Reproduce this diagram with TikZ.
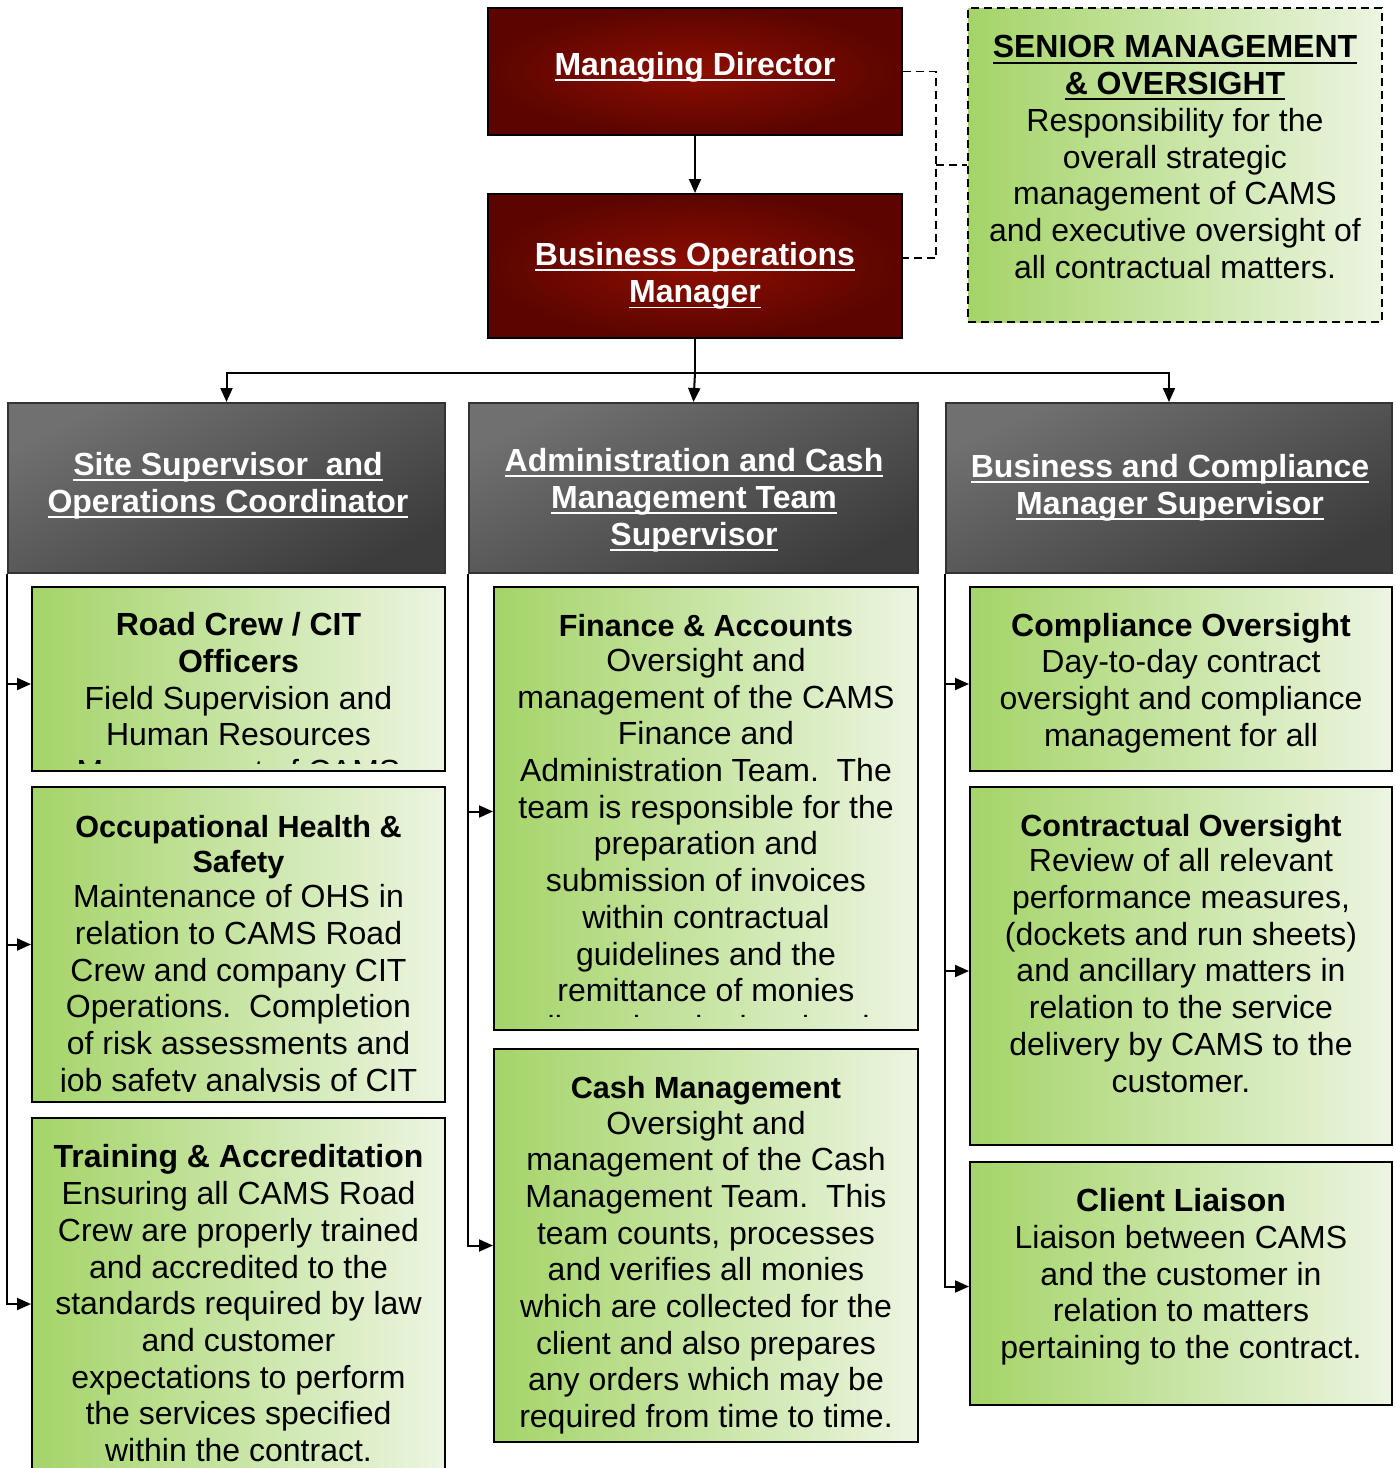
\documentclass[tikz,border=0pt]{standalone}
\usepackage{fontspec}
\setmainfont{Liberation Sans}
\usetikzlibrary{arrows.meta}
\definecolor{redin}{RGB}{142,14,0}
\definecolor{redout}{RGB}{92,5,0}
\definecolor{grayA}{RGB}{112,112,112}
\definecolor{grayB}{RGB}{60,60,60}
\definecolor{grnL}{RGB}{164,212,104}
\definecolor{grnR}{RGB}{236,245,225}
\newcommand\myul[1]{\setbox0\hbox{#1}\rlap{\rule[-2.8pt]{\wd0}{0.9pt}}\box0}
\newcommand\smhd[1]{{\fontsize{15.3pt}{17.5pt}\selectfont\bfseries #1}}
\tikzset{
  redbox/.style={draw=black, line width=1pt, shading=radial, inner color=redin, outer color=redout, minimum width=207pt, inner sep=0pt},
  graybox/.style={draw=black!80, line width=1pt, top color=grayA, bottom color=grayB, shading angle=25, minimum height=85pt, inner sep=0pt},
  grnbox/.style={draw=black, line width=1pt, left color=grnL, right color=grnR, inner sep=0pt},
  sendash/.style={draw=black, line width=1pt, dash pattern=on 4pt off 2.5pt},
  txt/.style={inner sep=0pt, align=center, font=\fontsize{16pt}{18.35pt}\selectfont},
  wtxt/.style={txt, text=white, font=\fontsize{16pt}{18.6pt}\selectfont\bfseries},
  arr/.style={line width=1pt, -{Triangle[length=7pt,width=6pt]}},
  dline/.style={line width=0.9pt, dash pattern=on 4pt off 2.5pt}
}
\begin{document}
\begin{tikzpicture}[x=0.5pt, y=-0.5pt]
\useasboundingbox (0,0) rectangle (1396,1468);
% top level
\node[redbox, minimum height=63.5pt] (md) at (695,71.5) {};
\node[redbox, minimum height=72pt] (bom) at (695,266) {};
\node[grnbox, sendash, minimum width=207pt, minimum height=157pt] (sen) at (1175,165) {};
\node[wtxt] (mdT) at (695,67) {\myul{Managing Director}};
\node[wtxt] (bomT) at (695,276) {\myul{Business Operations}\\\myul{Manager}};
\node[txt] (senT) at (1175,157) {\textbf{\myul{SENIOR MANAGEMENT}}\\\textbf{\myul{\& OVERSIGHT}}\\Responsibility for the\\overall strategic\\management of CAMS\\and executive oversight of\\all contractual matters.};
% headers
\node[graybox, minimum width=218.5pt] (h1) at (226.5,488) {};
\node[graybox, minimum width=224.5pt] (h2) at (693.5,488) {};
\node[graybox, minimum width=223pt] (h3) at (1169,488) {};
\node[wtxt] (h1T) at (228,485.5) {\myul{Site Supervisor\ \ and}\\\myul{Operations Coordinator}};
\node[wtxt] (h2T) at (694,500) {\myul{Administration and Cash}\\\myul{Management Team}\\\myul{Supervisor}};
\node[wtxt] (h3T) at (1170,487.5) {\myul{Business and Compliance}\\\myul{Manager Supervisor}};
% green boxes
\node[grnbox, minimum width=206.5pt, minimum height=92pt] (g11) at (238.5,679) {};
\node[grnbox, minimum width=206.5pt, minimum height=157.5pt] (g12) at (238.5,944.5) {};
\node[grnbox, minimum width=206.5pt, minimum height=186pt] (g13) at (238.5,1304) {};
\node[grnbox, minimum width=212pt, minimum height=221.5pt] (g21) at (706,808.5) {};
\node[grnbox, minimum width=212pt, minimum height=196.5pt] (g22) at (706,1245.5) {};
\node[grnbox, minimum width=211pt, minimum height=92pt] (g31) at (1181,679) {};
\node[grnbox, minimum width=211pt, minimum height=179pt] (g32) at (1181,966) {};
\node[grnbox, minimum width=211pt, minimum height=121.5pt] (g33) at (1181,1283.5) {};
% texts (clipped where the reference clips them)
\begin{scope}
\clip (g11.north west) rectangle ([yshift=4.5pt]g11.south east);
\node[txt] (g11T) at (238.5,701) {\textbf{Road Crew / CIT}\\\textbf{Officers}\\Field Supervision and\\Human Resources\\Management of CAMS};
\end{scope}
\begin{scope}
\clip (g12.north west) rectangle ([yshift=6pt]g12.south east);
\node[txt] (g12T) at (238.5,956.5) {\smhd{Occupational Health \&}\\[-0.8pt]\smhd{Safety}\\[-0.8pt]Maintenance of OHS in\\relation to CAMS Road\\Crew and company CIT\\Operations.\ \ Completion\\of risk assessments and\\job safety analysis of CIT};
\end{scope}
\node[txt] (g13T) at (238.5,1303.3) {\textbf{Training \& Accreditation}\\Ensuring all CAMS Road\\Crew are properly trained\\and accredited to the\\standards required by law\\and customer\\expectations to perform\\the services specified\\within the contract.};
\begin{scope}
\clip (g21.north west) rectangle ([yshift=7.5pt]g21.south east);
\node[txt] (g21T) at (706,826.5) {\smhd{Finance \& Accounts}\\[-0.8pt]Oversight and\\management of the CAMS\\Finance and\\Administration Team.\ \ The\\team is responsible for the\\preparation and\\submission of invoices\\within contractual\\guidelines and the\\remittance of monies\\collected and related to the};
\end{scope}
\node[txt] (g22T) at (706,1255.5) {\smhd{Cash Management}\\[-0.8pt]Oversight and\\management of the Cash\\Management Team.\ \ This\\team counts, processes\\and verifies all monies\\which are collected for the\\client and also prepares\\any orders which may be\\required from time to time.};
\begin{scope}
\clip (g31.north west) rectangle ([yshift=5.5pt]g31.south east);
\node[txt] (g31T) at (1181,698.2) {\textbf{Compliance Oversight}\\Day-to-day contract\\oversight and compliance\\management for all\\contracts.};
\end{scope}
\node[txt] (g32T) at (1181,953.5) {\smhd{Contractual Oversight}\\[-0.8pt]Review of all relevant\\performance measures,\\(dockets and run sheets)\\and ancillary matters in\\relation to the service\\delivery by CAMS to the\\customer.};
\node[txt] (g33T) at (1181,1276.8) {\textbf{Client Liaison}\\Liaison between CAMS\\and the customer in\\relation to matters\\pertaining to the contract.};
% connectors
\draw[arr] (md) -- (bom);
\draw[line width=1pt] (bom.south) -- ++(0,34) coordinate (j);
\draw[arr] (j) -- (h2.north);
\draw[arr] (j) -| (h1.north);
\draw[arr] (j) -| (h3.north);
\draw[dline] (md.east) -- ++(33,0) coordinate (d1) |- ([yshift=4pt]bom.east);
\draw[dline] (d1 |- sen.west) -- (sen.west);
\draw[arr] (h1.south west) |- ([yshift=-2.5pt]g11.west);
\draw[arr] (h1.south west) |- (g12.west);
\draw[arr] (h1.south west) |- (g13.west);
\draw[arr] (h2.south west) |- ([yshift=-1.5pt]g21.west);
\draw[arr] (h2.south west) |- (g22.west);
\draw[arr] (h3.south west) |- ([yshift=-2.5pt]g31.west);
\draw[arr] (h3.south west) |- ([yshift=-2.5pt]g32.west);
\draw[arr] (h3.south west) |- ([yshift=-1.5pt]g33.west);
\end{tikzpicture}
\end{document}
